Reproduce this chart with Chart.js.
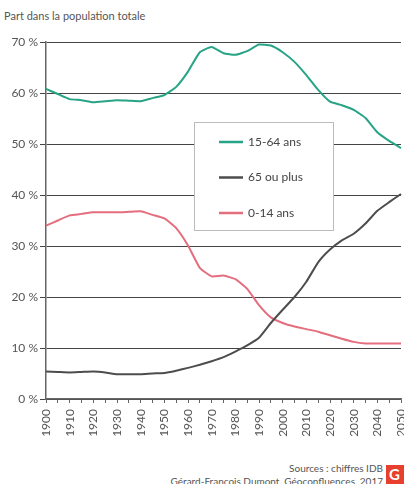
<!DOCTYPE html>
<html lang="fr">
<head>
<meta charset="UTF-8">
<title>Part dans la population totale</title>
<script src="https://cdn.jsdelivr.net/npm/chart.js"></script>
<style>
    body { margin: 0; background: #fff; font-family: Lato, "Open Sans", sans-serif; }
    .page { position: relative; width: 404px; height: 484px; overflow: hidden; }
    .titre { position: absolute; left: 4px; top: 9px; font-size: 11px; color: #555; }
    #graphique { position: absolute; left: 0; top: 0; }
    .source { position: absolute; right: 21px; font-size: 10px; color: #555; white-space: nowrap; }
    .logo { position: absolute; left: 386px; top: 465px; width: 18px; height: 19px; background: #e8402e;
            color: #fff; font: bold 15px Lato, sans-serif; line-height: 19px; padding-left: 3px; box-sizing: border-box; }
</style>
</head>
<body>
<div class="page">
    <div class="titre">Part dans la population totale</div>
    <canvas id="graphique" width="404" height="449"></canvas>
    <div class="source" style="top:462px">Sources : chiffres IDB</div>
    <div class="source" style="top:475px">Gérard-François Dumont, Géoconfluences, 2017</div>
    <div class="logo">G</div>
</div>
<script>
    // années (tous les 5 ans)
    const annees = [1900, 1905, 1910, 1915, 1920, 1925, 1930, 1935, 1940, 1945, 1950, 1955, 1960, 1965, 1970,
        1975, 1980, 1985, 1990, 1995, 2000, 2005, 2010, 2015, 2020, 2025, 2030, 2035, 2040, 2045, 2050];

    const age15a64 = [60.8, 59.8, 58.8, 58.6, 58.2, 58.4, 58.6, 58.5, 58.4, 59.0, 59.6, 61.2, 64.2, 68.0, 69.0,
        67.8, 67.5, 68.2, 69.5, 69.3, 68.0, 66.1, 63.5, 60.6, 58.3, 57.6, 56.7, 55.1, 52.3, 50.6, 49.2];

    const age65plus = [5.4, 5.3, 5.2, 5.3, 5.4, 5.2, 4.85, 4.85, 4.85, 5.0, 5.1, 5.55, 6.1, 6.7, 7.4,
        8.2, 9.3, 10.5, 12.0, 14.9, 17.5, 20.0, 23.0, 26.8, 29.3, 31.1, 32.4, 34.4, 36.9, 38.6, 40.2];

    const age0a14 = [34.0, 35.0, 36.0, 36.3, 36.6, 36.6, 36.6, 36.7, 36.8, 36.1, 35.4, 33.5, 30.1, 25.7, 24.05,
        24.2, 23.5, 21.6, 18.4, 16.0, 14.9, 14.2, 13.7, 13.2, 12.5, 11.8, 11.2, 10.9, 10.9, 10.9, 10.9];

    const yTicks = [0, 10, 20, 30, 40, 50, 60, 70];

    const police = "Lato, 'Open Sans', sans-serif";

    // légende dessinée dans la zone du graphique
    const legendeEncadree = {
        id: 'legendeEncadree',
        afterDatasetsDraw(chart) {
            const ctx = chart.ctx;
            const a = chart.chartArea;
            const x = a.left + 148, y = a.top + 80, w = 139, h = 108;
            ctx.save();
            ctx.fillStyle = '#fff';
            ctx.fillRect(x, y, w, h);
            ctx.strokeStyle = '#bbb';
            ctx.lineWidth = 1;
            ctx.strokeRect(x + 0.5, y + 0.5, w, h);
            ctx.font = '12px ' + police;
            ctx.textBaseline = 'middle';
            chart.data.datasets.forEach((ds, i) => {
                const ly = y + 20 + i * 35.5;
                ctx.strokeStyle = ds.borderColor;
                ctx.lineWidth = 2.5;
                ctx.beginPath();
                ctx.moveTo(x + 25, ly);
                ctx.lineTo(x + 49, ly);
                ctx.stroke();
                ctx.fillStyle = '#444';
                ctx.fillText(ds.label, x + 54, ly);
            });
            ctx.restore();
        }
    };

    new Chart(document.getElementById('graphique'), {
        type: 'line',
        data: {
            labels: annees,
            datasets: [
                { label: '15-64 ans', data: age15a64, borderColor: '#27a385', borderWidth: 2 },
                { label: '65 ou plus', data: age65plus, borderColor: '#4d4d4d', borderWidth: 2 },
                { label: '0-14 ans', data: age0a14, borderColor: '#e46e7e', borderWidth: 2 }
            ]
        },
        options: {
            responsive: false,
            animation: false,
            layout: { padding: { top: 42, right: 3, left: 0, bottom: 0 } },
            elements: { point: { radius: 0 }, line: { tension: 0.15 } },
            plugins: { legend: { display: false }, tooltip: { enabled: false } },
            scales: {
                x: {
                    type: 'category',
                    offset: false,
                    grid: { drawOnChartArea: false, drawTicks: true, tickLength: 4, color: '#666' },
                    border: { color: '#666', width: 1.5 },
                    ticks: {
                        autoSkip: false,
                        minRotation: 90,
                        maxRotation: 90,
                        padding: 6,
                        color: '#555',
                        font: { family: police, size: 12 },
                        callback: (v, i) => annees[i] % 10 === 0 ? String(annees[i]) : ''
                    },
                    afterFit: s => { s.height = 50; s.paddingLeft = 0; s.paddingRight = 0; }
                },
                y: {
                    min: 0,
                    max: 70,
                    afterBuildTicks: s => { s.ticks = yTicks.map(v => ({ value: v })); },
                    grid: { color: '#444', borderDash: [3, 2], tickLength: 6, tickBorderDash: [] },
                    border: { color: '#666', width: 1.5 },
                    ticks: {
                        padding: 2,
                        color: '#555',
                        font: { family: police, size: 12 },
                        callback: v => v + ' %'
                    },
                    afterFit: s => { s.width = 46; s.paddingTop = 0; s.paddingBottom = 0; }
                }
            }
        },
        plugins: [legendeEncadree]
    });
</script>
</body>
</html>
